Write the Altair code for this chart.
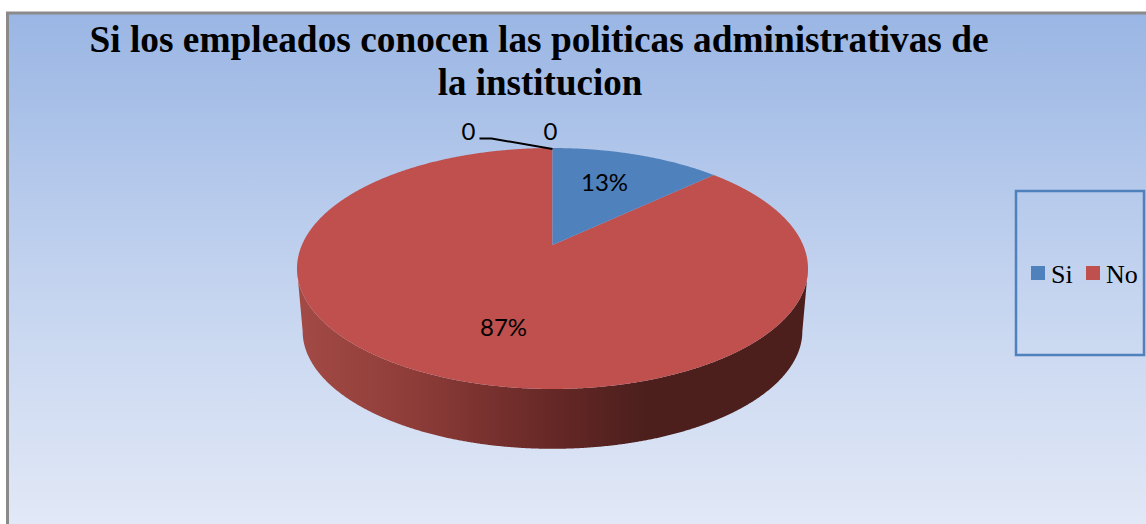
import numpy as np
import pandas as pd
import altair as alt

W, H = 1146, 524

# Chart content
title_lines = ["Si los empleados conocen las politicas administrativas de", "la institucion"]
title_sizes = [37.35, 37]
categories = ["Si", "No"]
shares = [13, 87]
slice_labels = ["13%", "87%"]
slice_colors = ["#4f81bd", "#c0504d"]
zero_labels = ["0", "0"]

# Pie seen in perspective: a unit circle projected with a vanishing factor
APEX_X, APEX_Y = 552.5, 245.0
TILT = 0.195
DEPTH_K = 115.9
WIDTH_K = 250.6
WALL_SCALE = 0.978
WALL_APEX_Y = 308.0

X = alt.X("x:Q", scale=alt.Scale(domain=[0, W], nice=False, zero=False), axis=None)
Y = alt.Y("y:Q", scale=alt.Scale(domain=[0, H], reverse=True, nice=False, zero=False), axis=None)


def project(theta, scale=1.0, apex_y=APEX_Y):
    # theta runs clockwise from twelve o'clock
    cx, cy = np.sin(theta), np.cos(theta)
    w = 1 + TILT * cy
    return APEX_X + scale * WIDTH_K * cx / w, apex_y - scale * DEPTH_K * cy / w


def rim(scale=1.0, apex_y=APEX_Y):
    far = scale * DEPTH_K / (1 + TILT)
    near = scale * DEPTH_K / (1 - TILT)
    a = scale * WIDTH_K / np.sqrt(1 - TILT ** 2)
    cy = apex_y + (near - far) / 2
    b = (near + far) / 2
    return a, cy, b


a, cy, b = rim()
a2, cy2, b2 = rim(WALL_SCALE, WALL_APEX_Y)


def far_y(x):
    return cy - b * np.sqrt(np.clip(1 - ((x - APEX_X) / a) ** 2, 0, 1))


def near_y(x):
    return cy + b * np.sqrt(np.clip(1 - ((x - APEX_X) / a) ** 2, 0, 1))


edge_x, edge_y = project(2 * np.pi * shares[0] / sum(shares))
grid = APEX_X - a * np.cos(np.linspace(0, np.pi, 721))
grid = np.unique(np.concatenate([grid, [APEX_X, edge_x, APEX_X - a2, APEX_X + a2]]))


def cut_y(x):
    return APEX_Y + (edge_y - APEX_Y) * (x - APEX_X) / (edge_x - APEX_X)


# First slice: far rim above, radius below
si_x = grid[(grid >= APEX_X) & (grid <= edge_x)]
si = pd.DataFrame({"x": si_x, "y": far_y(si_x), "y2": cut_y(si_x)})

# Second slice: everything else on the disc; the small step before the
# apex gives the straight edge shared with the first slice
rows = []
for gx in grid:
    if gx == APEX_X:
        rows.append((gx - 0.001, far_y(gx), near_y(gx)))
    if APEX_X <= gx <= edge_x:
        rows.append((gx, cut_y(gx), near_y(gx)))
    else:
        rows.append((gx, far_y(gx), near_y(gx)))
no = pd.DataFrame(rows, columns=["x", "y", "y2"])

# Side wall under the near half of the disc
left, right = APEX_X - a, APEX_X + a
lower = []
for gx in grid:
    if gx < APEX_X - a2:
        lower.append(cy + (cy2 - cy) * (gx - left) / (a - a2))
    elif gx > APEX_X + a2:
        lower.append(cy + (cy2 - cy) * (right - gx) / (a - a2))
    else:
        lower.append(cy2 + b2 * np.sqrt(max(1 - ((gx - APEX_X) / a2) ** 2, 0)))
wall = pd.DataFrame({"x": grid, "y": near_y(grid), "y2": lower})

backdrop = (
    alt.Chart(pd.DataFrame({"x": [7.5], "x2": [W + 20], "y": [13], "y2": [H + 20]}))
    .mark_rect(
        color=alt.Gradient(
            gradient="linear",
            x1=0, y1=0, x2=0, y2=1,
            stops=[
                alt.GradientStop(color="#9ab6e4", offset=0),
                alt.GradientStop(color="#c3d3ef", offset=0.5),
                alt.GradientStop(color="#e4eaf7", offset=1),
            ],
        ),
        stroke="#8a8a8a",
        strokeWidth=3,
    )
    .encode(x=X, x2="x2:Q", y=Y, y2="y2:Q")
)

wall_layer = (
    alt.Chart(wall)
    .mark_area(
        orient="vertical",
        color=alt.Gradient(
            gradient="linear",
            x1=0, y1=0, x2=1, y2=0,
            stops=[
                alt.GradientStop(color="#a34a45", offset=0),
                alt.GradientStop(color="#8f3d39", offset=0.22),
                alt.GradientStop(color="#662826", offset=0.5),
                alt.GradientStop(color="#4c1f1d", offset=0.68),
                alt.GradientStop(color="#4c1f1d", offset=1),
            ],
        ),
    )
    .encode(x=X, y=Y, y2="y2:Q")
)

no_layer = alt.Chart(no).mark_area(orient="vertical", color=slice_colors[1]).encode(x=X, y=Y, y2="y2:Q")
si_layer = alt.Chart(si).mark_area(orient="vertical", color=slice_colors[0]).encode(x=X, y=Y, y2="y2:Q")

leader = (
    alt.Chart(pd.DataFrame({"x": [479.5, 491.5, APEX_X], "y": [138.5, 138.5, 149.0], "i": [0, 1, 2]}))
    .mark_line(color="#000000", strokeWidth=2)
    .encode(x=X, y=Y, order="i:Q")
)


def text_layer(df, **style):
    return (
        alt.Chart(df)
        .mark_text(baseline="alphabetic", color="#000000", **style)
        .encode(x=X, y=Y, text="t:N")
    )


slice_text = text_layer(
    pd.DataFrame({"x": [604.5, 503.5], "y": [190.5, 335.5], "t": slice_labels}),
    font="Lato", fontSize=24, align="center",
)
zero_text = text_layer(
    pd.DataFrame({"x": [468.5, 550.5], "y": [140, 139.5], "t": zero_labels}),
    font="Lato", fontSize=24, align="center",
)
title_text = (
    alt.Chart(pd.DataFrame({"x": [539, 540], "y": [52, 95], "t": title_lines, "s": title_sizes}))
    .mark_text(baseline="alphabetic", color="#000000", font="Liberation Serif", fontWeight="bold", align="center")
    .encode(x=X, y=Y, text="t:N", size=alt.Size("s:Q", scale=None))
)

legend_box = (
    alt.Chart(pd.DataFrame({"x": [1016], "x2": [1144], "y": [191], "y2": [355]}))
    .mark_rect(fillOpacity=0, stroke="#4f81bd", strokeWidth=2.5)
    .encode(x=X, x2="x2:Q", y=Y, y2="y2:Q")
)
legend_marks = (
    alt.Chart(pd.DataFrame({"x": [1031, 1086], "x2": [1045, 1100], "y": [266, 266], "y2": [280, 280], "c": categories}))
    .mark_rect()
    .encode(
        x=X, x2="x2:Q", y=Y, y2="y2:Q",
        color=alt.Color("c:N", scale=alt.Scale(domain=categories, range=slice_colors), legend=None),
    )
)
legend_text = text_layer(
    pd.DataFrame({"x": [1051, 1106], "y": [283, 283], "t": categories}),
    font="Liberation Serif", fontSize=26, align="left",
)

chart = (
    alt.layer(
        backdrop, wall_layer, no_layer, si_layer, leader,
        slice_text, zero_text, title_text,
        legend_box, legend_marks, legend_text,
    )
    .properties(width=W, height=H, padding=0, background="#ffffff",
                autosize=alt.AutoSizeParams(type="none"))
    .configure_view(stroke=None)
)

chart.save("out.html", embed_options={"renderer": "svg", "actions": False})
